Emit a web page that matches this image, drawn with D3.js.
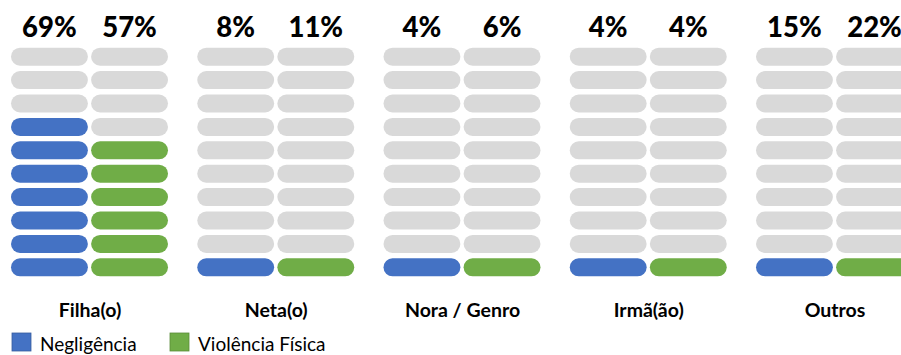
<!DOCTYPE html>
<html><head><meta charset="utf-8">
<script src="https://cdn.jsdelivr.net/npm/d3@7"></script>
<style>body{margin:0;background:#fff}svg{display:block}</style>
</head><body>
<script>
const categories = ["Filha(o)", "Neta(o)", "Nora / Genro", "Irmã(ão)", "Outros"];
const series = ["Negligência", "Violência Física"];
const negligencia = [69, 8, 4, 4, 15];
const violencia = [57, 11, 6, 4, 22];
const negligenciaFilled = [7, 1, 1, 1, 1];
const violenciaFilled = [6, 1, 1, 1, 1];
const colors = ["#4472C4", "#70AD47"];
const emptyColor = "#D9D9D9";
const rowsCount = 10;

const W = 901, H = 355;
const svg = d3.select("body").append("svg").attr("width", W).attr("height", H);
const font = "Lato, 'Open Sans', sans-serif";

const gx = d3.scaleLinear().domain([0, categories.length - 1]).range([11, 756]);
const sx = d3.scaleBand().domain(series).range([0, 157]).paddingInner(0.04);
const ry = d3.scaleBand().domain(d3.range(rowsCount)).range([47.7, 276.3]).paddingInner(0.23);

const values = [negligencia, violencia];
const filled = [negligenciaFilled, violenciaFilled];

categories.forEach((cat, i) => {
  const g = svg.append("g").attr("transform", `translate(${gx(i)},0)`);
  series.forEach((s, j) => {
    const n = filled[j][i];
    g.selectAll(null).data(d3.range(rowsCount)).join("rect")
      .attr("x", sx(s)).attr("y", r => ry(r))
      .attr("width", sx.bandwidth()).attr("height", ry.bandwidth())
      .attr("rx", ry.bandwidth() / 2).attr("ry", ry.bandwidth() / 2)
      .attr("fill", r => (rowsCount - r) <= n ? colors[j] : emptyColor);
    g.append("text").attr("x", sx(s) + sx.bandwidth() / 2).attr("y", 37)
      .attr("text-anchor", "middle").attr("font-family", font)
      .attr("font-weight", "900").attr("font-size", 27.5).attr("fill", "#000")
      .text(values[j][i] + "%");
  });
  g.append("text").attr("x", 157 / 2 + 0.5).attr("y", 317)
    .attr("text-anchor", "middle").attr("font-family", font)
    .attr("font-weight", "bold").attr("font-size", 19.5).attr("fill", "#000")
    .text(cat);
});

const legendX = [12, 170];
series.forEach((s, j) => {
  svg.append("rect").attr("x", legendX[j]).attr("y", 333).attr("width", 19).attr("height", 18)
    .attr("fill", colors[j]).attr("stroke", d3.color(colors[j]).darker(0.6)).attr("stroke-width", 0.8);
  svg.append("text").attr("x", legendX[j] + 28).attr("y", 351)
    .attr("font-family", font).attr("font-size", 19).attr("fill", "#000").text(s);
});
</script>
</body></html>
